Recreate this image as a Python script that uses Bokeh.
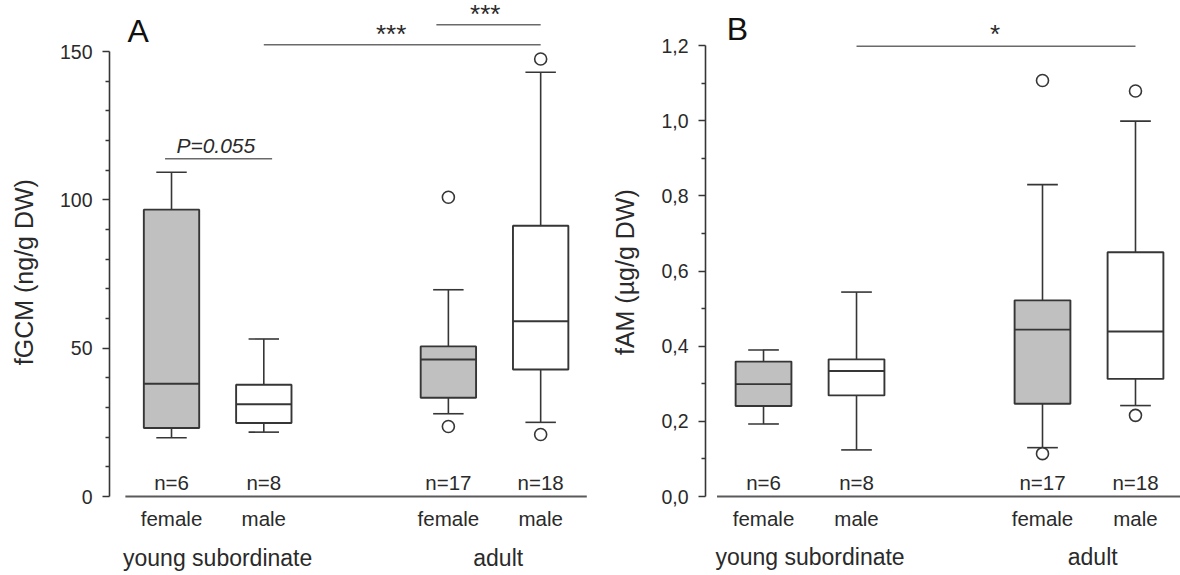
from bokeh.plotting import figure
from bokeh.layouts import row
from bokeh.models import FixedTicker, CustomJSTickFormatter
from bokeh.core.properties import value
from bokeh.embed import file_html
from bokeh.resources import INLINE

# ---------------- data ----------------
positions = [1, 2, 4, 5]
sex_labels = ["female", "male", "female", "male"]
group_labels = ["young subordinate", "adult"]
group_pos = [1.5, 4.54]
n_labels = ["n=6", "n=8", "n=17", "n=18"]
box_fills = ["#c0c0c0", "#ffffff", "#c0c0c0", "#ffffff"]

# Panel A: fGCM (ng/g DW)
a_lo = [19.8, 21.7, 27.9, 25.0]
a_q1 = [23.1, 24.8, 33.3, 42.8]
a_med = [38.0, 31.1, 46.2, 59.1]
a_q3 = [96.7, 37.7, 50.6, 91.3]
a_hi = [109.3, 53.1, 69.7, 143.0]
a_out_x = [4, 4, 5, 5]
a_out_y = [100.9, 23.6, 147.5, 20.9]
a_ticks = [0, 50, 100, 150]
a_minor = [10, 20, 30, 40, 60, 70, 80, 90, 110, 120, 130, 140]
a_sig_x0 = [0.93, 2.0, 3.87]
a_sig_x1 = [2.09, 5.0, 5.0]
a_sig_y = [113.9, 152.3, 159.0]
a_sig_text = ["P=0.055", "***", "***"]
a_sig_tx = [1.48, 3.38, 4.40]
a_sig_ty = [118.3, 156.0, 162.8]

# Panel B: fAM (µg/g DW)
b_lo = [0.193, 0.124, 0.130, 0.242]
b_q1 = [0.241, 0.269, 0.247, 0.313]
b_med = [0.299, 0.334, 0.444, 0.439]
b_q3 = [0.359, 0.365, 0.522, 0.650]
b_hi = [0.390, 0.544, 0.830, 0.999]
b_out_x = [4, 4, 5, 5]
b_out_y = [1.107, 0.114, 1.079, 0.216]
b_ticks = [0.0, 0.2, 0.4, 0.6, 0.8, 1.0, 1.2]
b_minor = [0.1, 0.3, 0.5, 0.7, 0.9, 1.1]
b_sig_x0 = [2.0]
b_sig_x1 = [5.0]
b_sig_y = [1.198]
b_sig_text = ["*"]
b_sig_tx = [3.49]
b_sig_ty = [1.232]

FONT = "Liberation Sans"
INK = "#2a2a2a"
LINE = "#363636"
NBSP = "\u00a0"


def make_panel(width, left, xr, yr, lo, q1, med, q3, hi, out_x, out_y,
               ticks, minor, bound_top, ylabel, fmt,
               sig_x0, sig_x1, sig_y, sig_text, sig_tx, sig_ty,
               letter, letter_xy, n_y, sex_y, group_y):
    p = figure(width=width, height=575, x_range=xr, y_range=yr,
               output_backend="svg", toolbar_location=None, tools="",
               x_axis_location=None, min_border_left=left, min_border_right=0,
               min_border_top=3, min_border_bottom=0)
    p.outline_line_color = None
    p.xgrid.visible = False
    p.ygrid.visible = False
    p.background_fill_color = "white"

    ax = p.yaxis[0]
    ax.ticker = FixedTicker(ticks=ticks, minor_ticks=minor)
    if fmt is not None:
        ax.formatter = fmt
    ax.bounds = (0, bound_top)
    ax.axis_line_color = LINE
    ax.axis_line_width = 1.6
    ax.major_tick_line_color = LINE
    ax.major_tick_line_width = 1.6
    ax.minor_tick_line_color = LINE
    ax.minor_tick_line_width = 1.4
    ax.major_tick_out = 7
    ax.major_tick_in = 0
    ax.minor_tick_out = 4
    ax.minor_tick_in = 0
    ax.major_label_standoff = 10
    ax.major_label_text_font = FONT
    ax.major_label_text_font_size = "19.5px"
    ax.major_label_text_color = INK
    # leading non-breaking spaces centre the visible label on the 0..max span
    ax.axis_label = NBSP * 5 + ylabel
    ax.axis_label_text_font = FONT
    ax.axis_label_text_font_size = "25px"
    ax.axis_label_text_font_style = "normal"
    ax.axis_label_text_color = INK
    ax.axis_label_standoff = 19

    # x baseline
    p.segment(x0=[0.5], x1=[5.5], y0=[0], y1=[0], line_color="#5a5a5a", line_width=2.2)

    # whiskers
    p.segment(x0=positions, x1=positions, y0=q3, y1=hi, line_color=LINE, line_width=1.6)
    p.segment(x0=positions, x1=positions, y0=q1, y1=lo, line_color=LINE, line_width=1.6)
    cx0 = [x - 0.165 for x in positions]
    cx1 = [x + 0.165 for x in positions]
    p.segment(x0=cx0, x1=cx1, y0=hi, y1=hi, line_color=LINE, line_width=1.6)
    p.segment(x0=cx0, x1=cx1, y0=lo, y1=lo, line_color=LINE, line_width=1.6)
    # boxes
    p.vbar(x=positions, width=0.6, top=q3, bottom=q1, fill_color=box_fills,
           line_color=LINE, line_width=1.9)
    mx0 = [x - 0.3 for x in positions]
    mx1 = [x + 0.3 for x in positions]
    p.segment(x0=mx0, x1=mx1, y0=med, y1=med, line_color=LINE, line_width=1.9)
    # outliers
    p.scatter(x=out_x, y=out_y, marker="circle", size=12, fill_color="white",
              line_color=LINE, line_width=1.6)

    # significance brackets
    p.segment(x0=sig_x0, x1=sig_x1, y0=sig_y, y1=sig_y, line_color="#6a6a6a", line_width=1.5)
    for tx, ty, s in zip(sig_tx, sig_ty, sig_text):
        italic = s.startswith("P")
        p.text(x=[tx], y=[ty], text=[s], text_font=value(FONT),
               text_font_size=value("21px" if italic else "26px"),
               text_font_style="italic" if italic else "normal",
               text_align="center", text_baseline="middle", text_color=INK)

    # panel letter
    p.text(x=[letter_xy[0]], y=[letter_xy[1]], text=[letter], text_font=value(FONT),
           text_font_size=value("32px"), text_align="center", text_baseline="middle",
           text_color="#111111")

    # n labels, sex and group labels
    p.text(x=positions, y=[n_y] * 4, text=n_labels, text_font=value(FONT),
           text_font_size=value("20.5px"), text_align="center", text_baseline="middle",
           text_color=INK)
    p.text(x=positions, y=[sex_y] * 4, text=sex_labels, text_font=value(FONT),
           text_font_size=value("20.5px"), text_align="center", text_baseline="middle",
           text_color=INK)
    p.text(x=group_pos, y=[group_y] * 2, text=group_labels, text_font=value(FONT),
           text_font_size=value("23px"), text_align="center", text_baseline="middle",
           text_color=INK)
    return p


pA = make_panel(590, 109, (0.328, 5.54), (-26.63, 166.2),
                a_lo, a_q1, a_med, a_q3, a_hi, a_out_x, a_out_y,
                a_ticks, a_minor, 150, "fGCM (ng/g DW)", None,
                a_sig_x0, a_sig_x1, a_sig_y, a_sig_text, a_sig_tx, a_sig_ty,
                "A", (0.64, 157.0), 4.8, -7.4, -20.6)

fmtB = CustomJSTickFormatter(code="return tick.toFixed(1).replace('.', ',');")
pB = make_panel(590, 115, (0.376, 5.484), (-0.2102, 1.3119),
                b_lo, b_q1, b_med, b_q3, b_hi, b_out_x, b_out_y,
                b_ticks, b_minor, 1.2, "fAM (µg/g DW)", fmtB,
                b_sig_x0, b_sig_x1, b_sig_y, b_sig_text, b_sig_tx, b_sig_ty,
                "B", (0.72, 1.245), 0.038, -0.0585, -0.162)

layout = row(pA, pB)
open("out.html", "w").write(file_html(layout, INLINE))
